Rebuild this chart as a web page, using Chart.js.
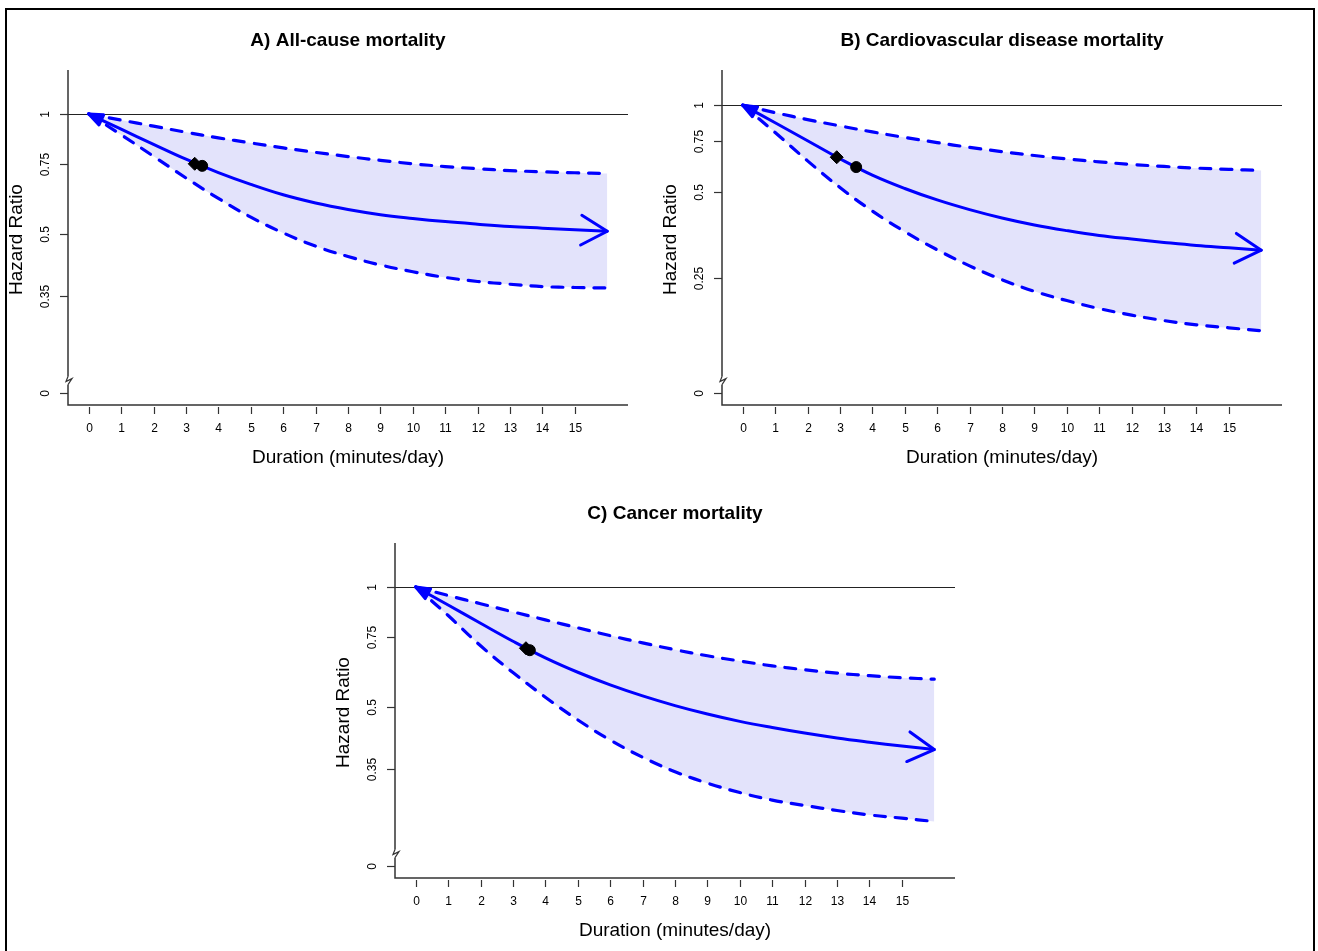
<!DOCTYPE html>
<html>
<head>
<meta charset="utf-8">
<script src="https://cdn.jsdelivr.net/npm/chart.js@4.4.0/dist/chart.umd.min.js"></script>
<style>
  body { margin: 0; background: #fff; width: 1318px; height: 951px; overflow: hidden; position: relative; }
  #frame { position: absolute; left: 5px; top: 8px; width: 1306px; height: 1000px; border: 2px solid #000; }
  canvas { position: absolute; }
</style>
</head>
<body>
<div id="frame"></div>
<canvas id="chartA" width="659" height="475" style="left:0;top:0"></canvas>
<canvas id="chartB" width="659" height="475" style="left:659px;top:0"></canvas>
<canvas id="chartC" width="659" height="476" style="left:330px;top:475px"></canvas>
<script>
// duration in minutes/day, curve evaluated at each point
const duration = [0, 1, 2, 3, 4, 5, 6, 7, 8, 9, 10, 11, 12, 13, 14, 15, 16];
const xTicks = [0, 1, 2, 3, 4, 5, 6, 7, 8, 9, 10, 11, 12, 13, 14, 15];

// A) all-cause
const allCauseHR    = [1, 0.916, 0.839, 0.770, 0.713, 0.666, 0.627, 0.598, 0.576, 0.559, 0.547, 0.537, 0.529, 0.522, 0.517, 0.512, 0.508];
const allCauseUpper = [1, 0.965, 0.932, 0.900, 0.871, 0.846, 0.822, 0.801, 0.782, 0.765, 0.750, 0.738, 0.729, 0.721, 0.716, 0.712, 0.709];
const allCauseLower = [1, 0.887, 0.783, 0.691, 0.614, 0.551, 0.503, 0.466, 0.439, 0.418, 0.402, 0.389, 0.380, 0.374, 0.369, 0.367, 0.366];
const allCauseDiamond = [3.27, 0.750];
const allCauseCircle  = [3.50, 0.741];

// B) cardiovascular
const cvdHR    = [1, 0.869, 0.752, 0.651, 0.571, 0.513, 0.468, 0.433, 0.405, 0.383, 0.366, 0.352, 0.342, 0.333, 0.325, 0.319, 0.313];
const cvdUpper = [1, 0.942, 0.891, 0.847, 0.807, 0.772, 0.741, 0.713, 0.689, 0.668, 0.650, 0.635, 0.622, 0.612, 0.604, 0.598, 0.593];
const cvdLower = [1, 0.803, 0.640, 0.517, 0.428, 0.363, 0.314, 0.276, 0.247, 0.225, 0.209, 0.196, 0.186, 0.178, 0.172, 0.168, 0.164];
const cvdDiamond = [2.90, 0.659];
const cvdCircle  = [3.50, 0.609];

// C) cancer
const cancerHR    = [1, 0.901, 0.811, 0.731, 0.664, 0.611, 0.568, 0.533, 0.504, 0.480, 0.460, 0.444, 0.430, 0.418, 0.408, 0.399, 0.391];
const cancerUpper = [1, 0.952, 0.908, 0.866, 0.827, 0.790, 0.755, 0.724, 0.696, 0.672, 0.652, 0.634, 0.620, 0.608, 0.599, 0.592, 0.587];
const cancerLower = [1, 0.848, 0.712, 0.610, 0.529, 0.464, 0.413, 0.374, 0.344, 0.322, 0.305, 0.292, 0.283, 0.275, 0.268, 0.263, 0.258];
const cancerDiamond = [3.40, 0.702];
const cancerCircle  = [3.52, 0.694];

const yTicksAC = [1, 0.75, 0.5, 0.35];
const yTicksB  = [1, 0.75, 0.5, 0.25];

const BLUE = "#0000FF";
const FONT = '"Liberation Sans", Arial, sans-serif';

function pts(xs, ys) {
  return xs.map((v, i) => ({ x: v, y: ys[i] }));
}

// R style 4% axis extension, done in log space for y
function logRange(lo, hi) {
  const a = Math.log(lo), b = Math.log(hi), d = (b - a) * 0.04;
  return [Math.exp(a - d), Math.exp(b + d)];
}

function arrowHead(ctx, tip, from, len, ang, filled) {
  const th = Math.atan2(tip.y - from.y, tip.x - from.x);
  ctx.beginPath();
  ctx.moveTo(tip.x - len * Math.cos(th - ang), tip.y - len * Math.sin(th - ang));
  ctx.lineTo(tip.x, tip.y);
  ctx.lineTo(tip.x - len * Math.cos(th + ang), tip.y - len * Math.sin(th + ang));
  if (filled) {
    ctx.closePath();
    ctx.fill();
  }
  ctx.stroke();
}

function panelPlugin(cfg) {
  return {
    id: "panel",
    beforeDatasetsDraw(chart) {
      const { ctx, chartArea: a, scales: { y } } = chart;
      const y1 = Math.round(y.getPixelForValue(1)) + 0.5;
      ctx.save();
      ctx.strokeStyle = "#222";
      ctx.lineWidth = 1;
      ctx.beginPath();
      ctx.moveTo(a.left, y1);
      ctx.lineTo(a.right, y1);
      ctx.stroke();
      ctx.restore();
    },
    afterDatasetsDraw(chart) {
      const { ctx } = chart;
      const p = chart.getDatasetMeta(0).data;
      ctx.save();
      ctx.strokeStyle = BLUE;
      ctx.fillStyle = BLUE;
      ctx.lineWidth = 3;
      ctx.lineJoin = "round";
      ctx.lineCap = "round";
      arrowHead(ctx, p[0], p[1], 15, 0.38, true);
      arrowHead(ctx, p[p.length - 1], p[p.length - 2], 30, 0.52, false);
      ctx.restore();
    },
    afterDraw(chart) {
      const { ctx, chartArea: a, scales: { x, y } } = chart;
      ctx.save();
      ctx.strokeStyle = "#333";
      ctx.fillStyle = "#000";
      // L shaped frame
      ctx.lineWidth = 1.5;
      ctx.beginPath();
      ctx.moveTo(a.left, a.top);
      ctx.lineTo(a.left, a.bottom);
      ctx.lineTo(a.right, a.bottom);
      ctx.stroke();

      // x ticks
      ctx.lineWidth = 1.2;
      ctx.font = "12px " + FONT;
      ctx.textAlign = "center";
      ctx.textBaseline = "middle";
      xTicks.forEach(v => {
        const px = Math.round(x.getPixelForValue(v)) + 0.5;
        ctx.beginPath();
        ctx.moveTo(px, a.bottom + 2);
        ctx.lineTo(px, a.bottom + 9);
        ctx.stroke();
        ctx.fillText(String(v), px, a.bottom + 24);
      });

      // y ticks, labels turned like R las=0
      const yl = cfg.yTicks.map(String).concat(["0"]);
      cfg.yTicks.concat([cfg.zeroAt]).forEach((v, i) => {
        const py = Math.round(y.getPixelForValue(v)) + 0.5;
        ctx.beginPath();
        ctx.moveTo(a.left - 8, py);
        ctx.lineTo(a.left, py);
        ctx.stroke();
        ctx.save();
        ctx.translate(a.left - 22, py);
        ctx.rotate(-Math.PI / 2);
        ctx.fillText(yl[i], 0, 0);
        ctx.restore();
      });

      // axis break just above the "0" tick
      const bp = y.getPixelForValue(cfg.zeroAt) - 12;
      ctx.fillStyle = "#fff";
      ctx.fillRect(a.left - 2, bp - 4, 4, 8);
      ctx.lineWidth = 1.2;
      ctx.beginPath();
      ctx.moveTo(a.left, bp - 4);
      ctx.lineTo(a.left - 2, bp + 1);
      ctx.lineTo(a.left + 4, bp - 2);
      ctx.lineTo(a.left, bp + 4);
      ctx.stroke();

      // axis titles
      ctx.fillStyle = "#000";
      ctx.font = "19px " + FONT;
      ctx.fillText("Duration (minutes/day)", (a.left + a.right) / 2, a.bottom + 53);
      ctx.save();
      ctx.translate(a.left - 51, (a.top + a.bottom) / 2 + 2);
      ctx.rotate(-Math.PI / 2);
      ctx.fillText("Hazard Ratio", 0, 0);
      ctx.restore();

      // panel title
      ctx.font = "bold 19px " + FONT;
      ctx.fillText(cfg.title, (a.left + a.right) / 2, a.top - 29);
      ctx.restore();
    }
  };
}

function makePanel(id, cfg) {
  const yr = logRange(cfg.yLim[0], cfg.yLim[1]);
  const line = {
    fill: false,
    pointRadius: 0,
    borderColor: BLUE,
    tension: 0.4,
    borderCapStyle: "round"
  };
  return new Chart(document.getElementById(id), {
    type: "line",
    data: {
      datasets: [
        Object.assign({}, line, { data: pts(duration, cfg.hr), borderWidth: 3, order: 0 }),
        Object.assign({}, line, {
          data: pts(duration, cfg.upper), borderWidth: 3.2, borderDash: [11, 10],
          fill: { target: 2 }, backgroundColor: "#E3E3FB", order: 3
        }),
        Object.assign({}, line, { data: pts(duration, cfg.lower), borderWidth: 3.2, borderDash: [11, 10], order: 2 }),
        {
          type: "scatter", data: [{ x: cfg.diamond[0], y: cfg.diamond[1] }],
          pointStyle: "rectRot", pointRadius: 6.5, backgroundColor: "#000", borderColor: "#000", order: -1
        },
        {
          type: "scatter", data: [{ x: cfg.circle[0], y: cfg.circle[1] }],
          pointStyle: "circle", pointRadius: 5.5, backgroundColor: "#000", borderColor: "#000", order: -2
        }
      ]
    },
    options: {
      responsive: false,
      animation: false,
      devicePixelRatio: 1,
      layout: { padding: cfg.padding },
      plugins: { legend: { display: false }, tooltip: { enabled: false } },
      scales: {
        x: { type: "linear", display: false, min: -0.64, max: 16.64 },
        y: { type: "logarithmic", display: false, min: yr[0], max: yr[1] }
      }
    },
    plugins: [panelPlugin(cfg)]
  });
}

makePanel("chartA", {
  title: "A) All-cause mortality",
  hr: allCauseHR, upper: allCauseUpper, lower: allCauseLower,
  diamond: allCauseDiamond, circle: allCauseCircle,
  yTicks: yTicksAC, zeroAt: 0.2, yLim: [0.2, 1.2],
  padding: { left: 68, top: 70, right: 31, bottom: 70 }
});

makePanel("chartB", {
  title: "B) Cardiovascular disease mortality",
  hr: cvdHR, upper: cvdUpper, lower: cvdLower,
  diamond: cvdDiamond, circle: cvdCircle,
  yTicks: yTicksB, zeroAt: 0.1, yLim: [0.1, 1.2],
  padding: { left: 63, top: 70, right: 36, bottom: 70 }
});

makePanel("chartC", {
  title: "C) Cancer mortality",
  hr: cancerHR, upper: cancerUpper, lower: cancerLower,
  diamond: cancerDiamond, circle: cancerCircle,
  yTicks: yTicksAC, zeroAt: 0.2, yLim: [0.2, 1.2],
  padding: { left: 65, top: 68, right: 34, bottom: 73 }
});
</script>
</body>
</html>
